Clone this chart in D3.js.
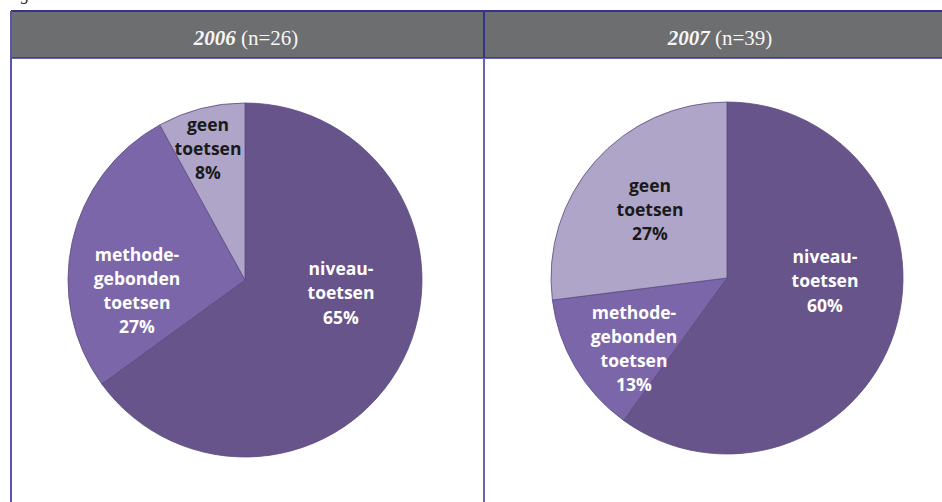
<!DOCTYPE html>
<html>
<head>
<meta charset="utf-8">
<script src="https://cdn.jsdelivr.net/npm/d3@7"></script>
<style>
  body { margin: 0; background: #fff; }
  svg { display: block; }
</style>
</head>
<body>
<div id="chart"></div>
<script>
// --- Data ---
const years = ['2006', '2007'];
const counts = ['n=26', 'n=39'];
const categories = ['niveau-toetsen', 'methode-gebonden toetsen', 'geen toetsen'];
const labelLines = [['niveau-', 'toetsen'], ['methode-', 'gebonden', 'toetsen'], ['geen', 'toetsen']];
const values2006 = [65, 27, 8];
const values2007 = [60, 13, 27];
const series = [values2006, values2007];

const width = 942, height = 502;
const colors = ['#67548b', '#7b66a9', '#afa5c8'];
const textColors = ['#ffffff', '#ffffff', '#1a1a1a'];

const svg = d3.select('#chart').append('svg')
  .attr('width', width)
  .attr('height', height);

// cut-off caption above the panels
svg.append('text')
  .attr('x', 6).attr('y', 0)
  .attr('font-family', 'Liberation Serif')
  .attr('font-style', 'italic')
  .attr('font-size', 17)
  .attr('fill', '#222')
  .text('Fig');

// --- Panels ---
const headTop = 11, headBottom = 58;

svg.append('rect')
  .attr('x', 11).attr('y', headTop)
  .attr('width', width).attr('height', headBottom - headTop)
  .attr('fill', '#6d6e70');

// header lines
svg.append('line').attr('x1', 11).attr('x2', width).attr('y1', headTop).attr('y2', headTop)
  .attr('stroke', '#33338a').attr('stroke-width', 2);
svg.append('line').attr('x1', 11).attr('x2', width).attr('y1', headBottom).attr('y2', headBottom)
  .attr('stroke', '#33338a').attr('stroke-width', 1.5);
// vertical lines
svg.append('line').attr('x1', 11).attr('x2', 11).attr('y1', headTop).attr('y2', height)
  .attr('stroke', '#5a55aa').attr('stroke-width', 2);
svg.append('line').attr('x1', 484).attr('x2', 484).attr('y1', headTop).attr('y2', headBottom)
  .attr('stroke', '#33338a').attr('stroke-width', 2);
svg.append('line').attr('x1', 484).attr('x2', 484).attr('y1', headBottom).attr('y2', height)
  .attr('stroke', '#6a62aa').attr('stroke-width', 2);

const headCenters = [246, 720];
years.forEach((yr, i) => {
  const t = svg.append('text')
    .attr('x', headCenters[i]).attr('y', 45)
    .attr('text-anchor', 'middle')
    .attr('font-family', 'Liberation Serif')
    .attr('font-size', 21)
    .attr('fill', '#f6f6f6');
  t.append('tspan').attr('font-weight', 'bold').attr('font-style', 'italic').text(yr);
  t.append('tspan').text(' (' + counts[i] + ')');
});

// --- Pies ---
const centers = [[245, 280], [727, 278]];
const radius = [177, 176];
// label anchor points (center of text block) per slice, relative to pie center
const labelPos = [
  [[96, 13], [-108, 11], [-37, -131]],
  [[98, 3], [-93, 71], [-77, -68]]
];

const pie = d3.pie().sort(null).value(d => d);

series.forEach((vals, pi) => {
  const g = svg.append('g')
    .attr('transform', `translate(${centers[pi][0]},${centers[pi][1]})`);
  const arc = d3.arc().innerRadius(0).outerRadius(radius[pi]);
  const arcs = pie(vals);

  g.selectAll('path')
    .data(arcs)
    .join('path')
    .attr('d', arc)
    .attr('fill', (d, i) => colors[i])
    .attr('stroke', '#5a4a80')
    .attr('stroke-width', 0.8);

  arcs.forEach((d, i) => {
    const lines = labelLines[i].concat([vals[i] + '%']);
    const lh = i === 0 ? 24.5 : 24;
    const [lx, ly] = labelPos[pi][i];
    const txt = g.append('text')
      .attr('text-anchor', 'middle')
      .attr('font-family', 'Open Sans')
      .attr('font-weight', 'bold')
      .attr('font-size', 17.5)
      .attr('fill', textColors[i]);
    lines.forEach((ln, k) => {
      txt.append('tspan')
        .attr('x', lx)
        .attr('y', ly + (k - (lines.length - 1) / 2) * lh + 6)
        .text(ln);
    });
  });
});
</script>
</body>
</html>
